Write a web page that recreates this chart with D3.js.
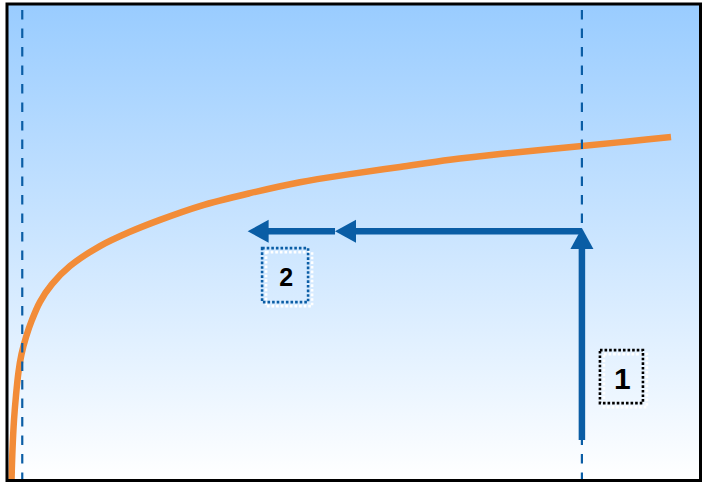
<!DOCTYPE html>
<html>
<head>
<meta charset="utf-8">
<script src="https://cdn.jsdelivr.net/npm/d3@7"></script>
<style>
  body { margin: 0; background: #fff; }
</style>
</head>
<body>
<div id="wrapper"></div>
<script>
/*
plot units: 0-100 on both axes, (0,0) is the bottom left corner of the box
values
*/
const curveX = [0.65, 0.79, 1.01, 1.30, 1.66, 2.09, 2.74, 3.60, 4.76, 6.49, 9.08, 13.41, 17.74, 22.07, 27.83, 35.04, 42.25, 49.46, 56.67, 63.88, 71.09, 82.91, 89.83, 95.75]
const curveY = [0, 6.4, 12.7, 17.9, 22.8, 26.5, 30.1, 33.7, 37.5, 41.2, 45.0, 49.2, 52.2, 54.7, 57.6, 60.3, 62.6, 64.3, 65.8, 67.3, 68.5, 70.2, 71.2, 72.1]

// the two dashed guides
const guideX = [2.2, 82.9]

// arrows: start -> tip
const arrowX1 = [82.9, 82.9, 47.3]
const arrowY1 = [8.5, 52.3, 52.3]
const arrowX2 = [82.9, 47.3, 34.7]
const arrowY2 = [53.0, 52.3, 52.3]

// numbered boxes
const labelText = ["1", "2"]
const labelX = [88.6, 40.1]
const labelY = [21.8, 43.1]

function drawChart() {
  const dimensions = {
    width: 702,
    height: 482,
    left: 7,
    right: 700.5,
    top: 4,
    bottom: 480.5,
  }

  const blue = "#0a5da5"
  const orange = "#f28c38"

  const svg = d3.select("#wrapper")
    .append("svg")
    .attr("width", dimensions.width)
    .attr("height", dimensions.height)

  const defs = svg.append("defs")
  const grad = defs.append("linearGradient")
    .attr("id", "bg")
    .attr("x1", 0).attr("y1", 0)
    .attr("x2", 0).attr("y2", 1)
  grad.append("stop").attr("offset", "0%").attr("stop-color", "#99ccff")
  grad.append("stop").attr("offset", "100%").attr("stop-color", "#ffffff")

  defs.append("clipPath").attr("id", "box")
    .append("rect")
    .attr("x", dimensions.left)
    .attr("y", dimensions.top)
    .attr("width", dimensions.right - dimensions.left)
    .attr("height", dimensions.bottom - dimensions.top)

  // scales
  const xScale = d3.scaleLinear()
    .domain([0, 100])
    .range([dimensions.left, dimensions.right])
  const yScale = d3.scaleLinear()
    .domain([0, 100])
    .range([dimensions.bottom, dimensions.top])

  // background
  svg.append("rect")
    .attr("x", dimensions.left)
    .attr("y", dimensions.top)
    .attr("width", dimensions.right - dimensions.left)
    .attr("height", dimensions.bottom - dimensions.top)
    .attr("fill", "url(#bg)")

  const plot = svg.append("g").attr("clip-path", "url(#box)")

  // orange curve
  const curveData = curveX.map((x, i) => ({ x: x, y: curveY[i] }))
  const lineGenerator = d3.line()
    .x(d => xScale(d.x))
    .y(d => yScale(d.y))
    .curve(d3.curveCatmullRom.alpha(0.5))

  plot.append("path")
    .datum(curveData)
    .attr("d", lineGenerator)
    .attr("fill", "none")
    .attr("stroke", orange)
    .attr("stroke-width", 6.5)

  // dashed guides (they sit on top of the curve)
  plot.selectAll(".guide")
    .data(guideX)
    .join("line")
    .attr("class", "guide")
    .attr("x1", d => xScale(d))
    .attr("x2", d => xScale(d))
    .attr("y1", yScale(100) + 6)
    .attr("y2", yScale(0))
    .attr("stroke", blue)
    .attr("stroke-width", 2.2)
    .attr("stroke-dasharray", "9.5,9")

  // arrows: shaft stops where the head starts
  const headLen = 21
  const headW = 23
  arrowX1.forEach((x1, i) => {
    const sx = xScale(x1), sy = yScale(arrowY1[i])
    const tx = xScale(arrowX2[i]), ty = yScale(arrowY2[i])
    const len = Math.hypot(tx - sx, ty - sy)
    const ux = (tx - sx) / len, uy = (ty - sy) / len
    const bx = tx - ux * headLen, by = ty - uy * headLen

    plot.append("line")
      .attr("x1", sx).attr("y1", sy)
      .attr("x2", bx + ux).attr("y2", by + uy)
      .attr("stroke", blue)
      .attr("stroke-width", 6.5)

    const px = -uy * headW / 2, py = ux * headW / 2
    const head = d3.path()
    head.moveTo(tx, ty)
    head.lineTo(bx + px, by + py)
    head.lineTo(bx - px, by - py)
    head.closePath()
    plot.append("path")
      .attr("d", head.toString())
      .attr("fill", blue)
  })

  // numbered boxes: white dotted shadow, then the dotted box, then the number
  const boxW = [43, 46]
  const boxH = [53, 54]
  const boxColor = ["#000", blue]
  const fontSize = [30, 25]

  labelText.forEach((t, i) => {
    const cx = xScale(labelX[i]), cy = yScale(labelY[i])
    const g = svg.append("g")

    g.append("rect")
      .attr("x", cx - boxW[i] / 2 + 4)
      .attr("y", cy - boxH[i] / 2 + 4)
      .attr("width", boxW[i])
      .attr("height", boxH[i])
      .attr("fill", "none")
      .attr("stroke", "#fff")
      .attr("stroke-width", 2.6)
      .attr("stroke-dasharray", "2.6,2")

    g.append("rect")
      .attr("x", cx - boxW[i] / 2)
      .attr("y", cy - boxH[i] / 2)
      .attr("width", boxW[i])
      .attr("height", boxH[i])
      .attr("fill", "none")
      .attr("stroke", boxColor[i])
      .attr("stroke-width", 2.6)
      .attr("stroke-dasharray", "2.6,2")

    g.append("text")
      .attr("x", cx + 1)
      .attr("y", cy + 2)
      .attr("dy", "0.36em")
      .attr("text-anchor", "middle")
      .style("font-family", "'Liberation Sans', Arial, sans-serif")
      .style("font-weight", "bold")
      .style("font-size", fontSize[i] + "px")
      .attr("fill", "#000")
      .text(t)
  })

  // frame
  svg.append("rect")
    .attr("x", dimensions.left)
    .attr("y", dimensions.top)
    .attr("width", dimensions.right - dimensions.left)
    .attr("height", dimensions.bottom - dimensions.top)
    .attr("fill", "none")
    .attr("stroke", "#000")
    .attr("stroke-width", 3)
}
drawChart()
</script>
</body>
</html>
